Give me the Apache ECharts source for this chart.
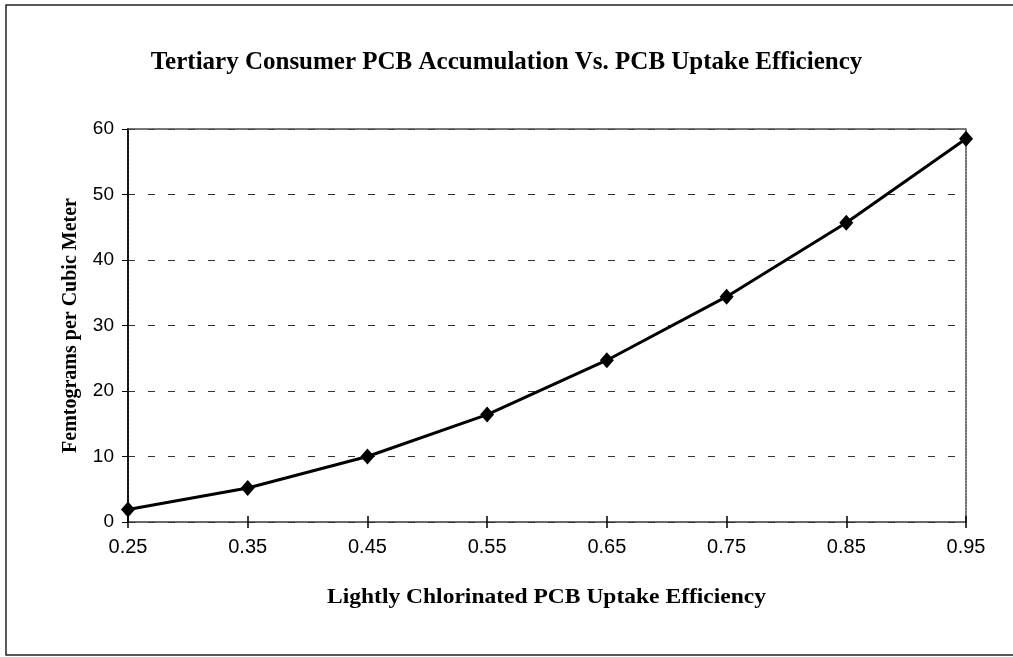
<!DOCTYPE html>
<html>
<head>
<meta charset="utf-8">
<script src="https://cdn.jsdelivr.net/npm/echarts@6/dist/echarts.min.js"></script>
<style>
  html, body { margin: 0; padding: 0; background: #fff; }
  #chart { width: 1013px; height: 657px; }
</style>
</head>
<body>
<div id="chart"></div>
<script>
// Uptake efficiency of lightly chlorinated PCBs (x) and tertiary consumer accumulation (y)
const efficiency = ['0.25', '0.35', '0.45', '0.55', '0.65', '0.75', '0.85', '0.95'];
const accumulation = [1.9, 5.2, 10.0, 16.4, 24.7, 34.4, 45.7, 58.5];
const yTicks = [0, 10, 20, 30, 40, 50, 60];

const titleText = 'Tertiary Consumer PCB Accumulation Vs. PCB Uptake Efficiency';
const xTitle = 'Lightly Chlorinated PCB Uptake Efficiency';
const yTitle = 'Femtograms per Cubic Meter';

const serif = '"Liberation Serif", "Times New Roman", serif';
const sans = '"Liberation Sans", Arial, sans-serif';

const chart = echarts.init(document.getElementById('chart'), null, { renderer: 'canvas' });

chart.setOption({
  animation: false,
  backgroundColor: '#fff',
  graphic: [{
    // page frame
    type: 'rect',
    shape: { x: 6, y: 5, width: 1020, height: 650 },
    style: { fill: 'none', stroke: '#222', lineWidth: 1.5 },
    silent: true
  }, {
    // x-axis title, spread slightly wider than the plain font
    type: 'text',
    x: 546.5,
    y: 598,
    scaleX: 1.12,
    style: {
      text: xTitle,
      fontFamily: serif, fontWeight: 'bold', fontSize: 21, fill: '#000',
      textAlign: 'center', textVerticalAlign: 'middle'
    },
    silent: true
  }],
  title: {
    text: titleText,
    left: 'center',
    top: 45,
    textStyle: { fontFamily: serif, fontWeight: 'bold', fontSize: 25, color: '#000' }
  },
  grid: { left: 128, right: 47, top: 129, bottom: 135, containLabel: false },
  xAxis: [{
    type: 'category',
    data: efficiency,
    boundaryGap: false,
    position: 'bottom',
    axisLine: { lineStyle: { color: '#333', width: 1.5, type: [2, 1] } },
    axisTick: { show: true, length: 6, lineStyle: { color: '#000', width: 1.5 } },
    axisLabel: { margin: 15, fontFamily: sans, fontSize: 20, color: '#000' },
    splitLine: { show: false }
  }, {
    // inner half of the crossing ticks
    type: 'category',
    data: efficiency,
    boundaryGap: false,
    position: 'bottom',
    axisLine: { show: false },
    axisTick: { show: true, inside: true, length: 6, lineStyle: { color: '#000', width: 1.5 } },
    axisLabel: { show: false },
    splitLine: { show: false }
  }, {
    // dotted top edge of the plot area
    type: 'category',
    data: efficiency,
    boundaryGap: false,
    position: 'top',
    axisLine: { lineStyle: { color: '#444', width: 1.5, type: [2, 1] } },
    axisTick: { show: false },
    axisLabel: { show: false },
    splitLine: { show: false }
  }],
  yAxis: [{
    type: 'value',
    min: yTicks[0],
    max: yTicks[yTicks.length - 1],
    interval: 10,
    name: yTitle,
    nameLocation: 'middle',
    nameGap: 47,
    nameTextStyle: { fontFamily: serif, fontWeight: 'bold', fontSize: 20, color: '#000' },
    axisLine: { show: true, lineStyle: { color: '#111', width: 2, type: [3, 1] } },
    axisTick: { show: true, length: 6, lineStyle: { color: '#000', width: 1 } },
    axisLabel: {
      margin: 14, fontFamily: sans, fontSize: 19, color: '#000',
      formatter: v => (yTicks.includes(v) ? String(v) : '')
    },
    splitLine: { show: true, lineStyle: { color: '#333', width: 1, type: [7, 13] } }
  }, {
    // dotted right edge of the plot area
    type: 'value',
    min: yTicks[0],
    max: yTicks[yTicks.length - 1],
    interval: 10,
    position: 'right',
    axisLine: { show: true, lineStyle: { color: '#444', width: 1.5, type: [2, 1] } },
    axisTick: { show: false },
    axisLabel: { show: false },
    splitLine: { show: false }
  }],
  series: [{
    type: 'line',
    data: accumulation,
    xAxisIndex: 0,
    yAxisIndex: 0,
    symbol: 'diamond',
    symbolSize: [14, 16],
    lineStyle: { color: '#000', width: 3 },
    itemStyle: { color: '#000' },
    z: 5
  }]
});
</script>
</body>
</html>
